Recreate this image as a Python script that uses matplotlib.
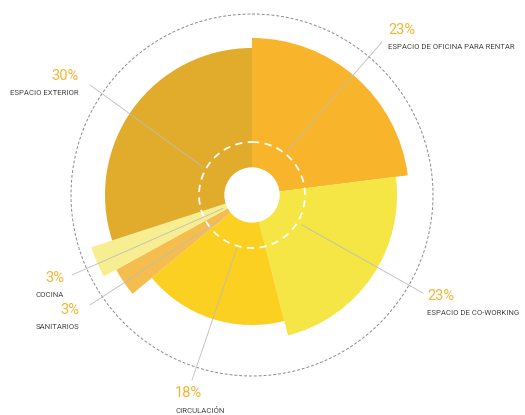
import numpy as np
import matplotlib
matplotlib.use('Agg')
from matplotlib import pyplot as plt

# data
labels = ['ESPACIO DE OFICINA PARA RENTAR', 'ESPACIO DE CO-WORKING', 'CIRCULACIÓN',
          'SANITARIOS', 'COCINA', 'ESPACIO EXTERIOR']
percents = [23, 23, 18, 3, 3, 30]
radii = [157, 145, 130, 155, 169, 147]
colors = ['#F8B52B', '#F5E545', '#FBD020', '#F5BC4E', '#F7EE92', '#E1AB2B']

plt.rcParams['font.family'] = ['Roboto', 'DejaVu Sans']

W, H = 525, 415
cx, cy, rmax = 252, 195, 185
hole = 27

fig = plt.figure(figsize=(W / 100, H / 100), dpi=100)
ax = fig.add_axes([(cx - rmax) / W, (H - cy - rmax) / H, 2 * rmax / W, 2 * rmax / H],
                  projection='polar')
ax.set_theta_zero_location('N')
ax.set_theta_direction(-1)
ax.set_ylim(0, rmax)
ax.axis('off')

widths = np.array(percents) / sum(percents) * 2 * np.pi
starts = np.concatenate([[0], np.cumsum(widths)[:-1]])
ax.bar(starts, np.array(radii) - hole, width=widths, bottom=hole, align='edge',
       color=colors, edgecolor='none', zorder=1)

t = np.linspace(0, 2 * np.pi, 400)
ax.plot(t, np.full_like(t, 181), color='#8a8a8a', lw=0.7, ls=(0, (3, 2)), zorder=2)
ax.plot(t, np.full_like(t, 53), color='white', lw=1.3, ls=(0, (4, 3)), zorder=3)

# leader lines: inner end (deg, r) -> label anchor in figure pixels (from top)
leaders = [((38.7, 57), (382, 42)), ((121, 58), (423, 293)), ((195.8, 55), (192, 380)),
           ((232, 40), (90, 305)), ((245, 32), (72, 275)), ((299.7, 56), (90, 85))]
for (ang, r), (px, py) in leaders:
    ax.annotate('', xy=(np.deg2rad(ang), r), xycoords='data',
                xytext=(px, H - py), textcoords='figure pixels',
                arrowprops=dict(arrowstyle='-', color='#bdbdbd', lw=0.6,
                                shrinkA=0, shrinkB=0), zorder=4)

# text positions (figure pixels from top) and alignment
text_pos = [(388, 30, 'left'), (427, 296, 'left'), (175, 393, 'left'),
            (79, 310, 'right'), (64, 278, 'right'), (79, 76, 'right')]
for lab, pct, (px, py, ha) in zip(labels, percents, text_pos):
    fig.text(px / W, 1 - py / H, f'{pct}%', ha=ha, va='center', fontsize=10.5,
             color='#F3B632')
    fig.text(px / W, 1 - (py + 17) / H, lab, ha=ha, va='center', fontsize=5.6,
             color='#444444')

ax.add_artist(plt.Circle((0, 0), hole, transform=ax.transData._b, color='white', zorder=5))

fig.savefig('out.png', dpi=100)
